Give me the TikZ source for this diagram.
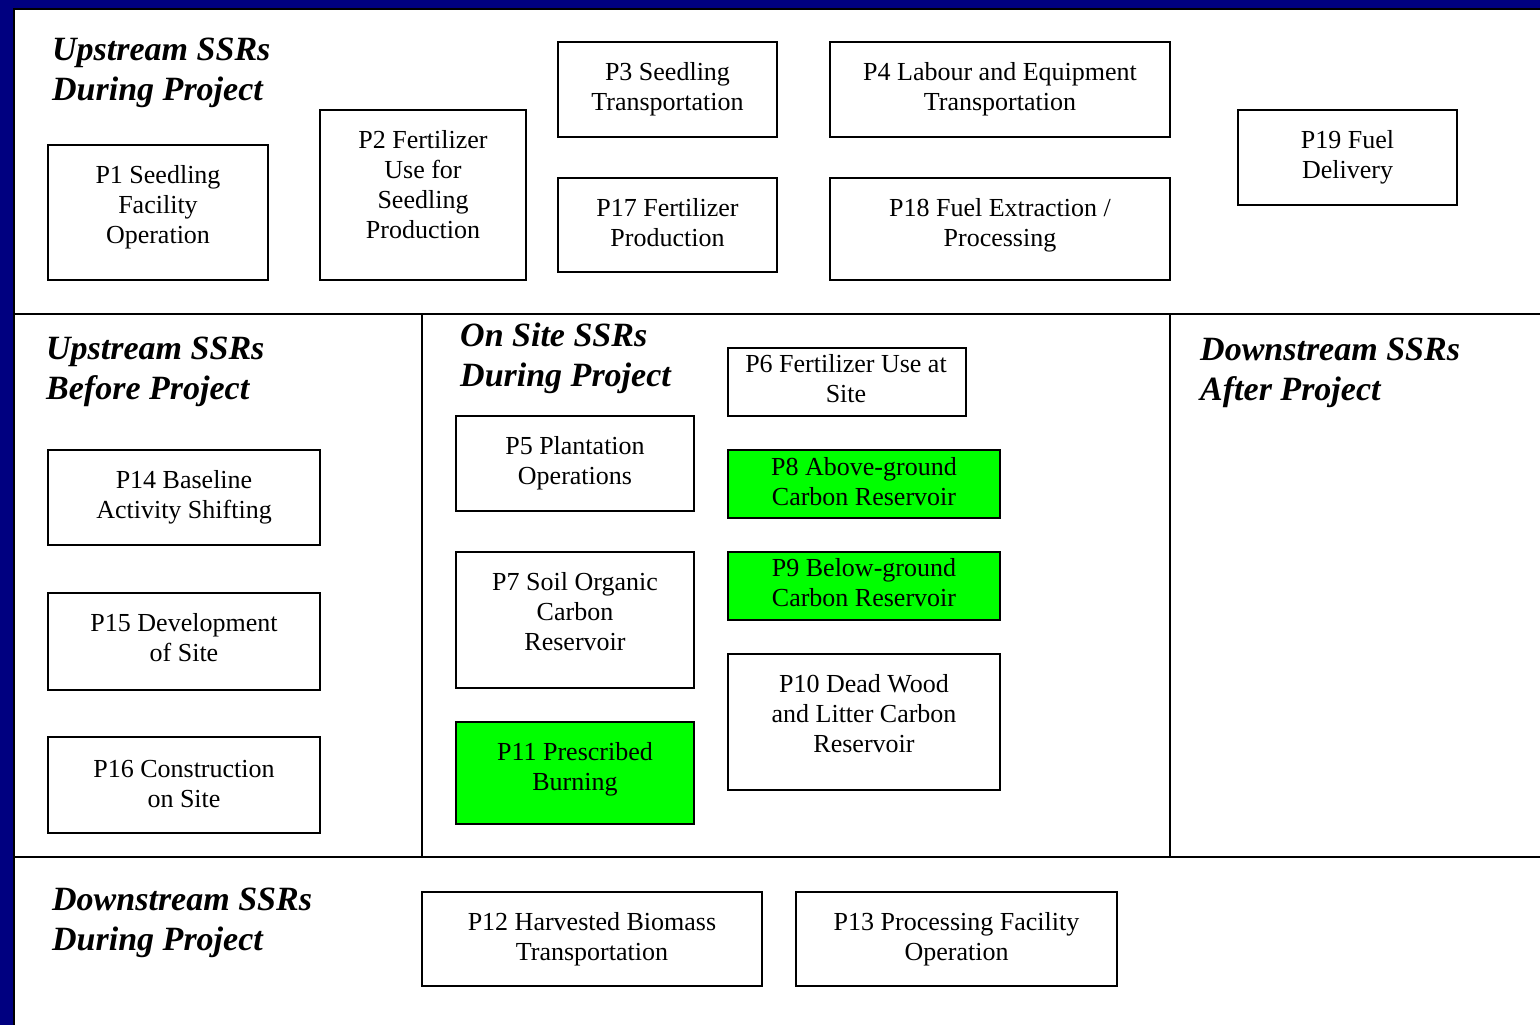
\documentclass[tikz,border=0pt]{standalone}
\usepackage{fontspec}
\setmainfont{Liberation Serif}
\definecolor{slideblue}{RGB}{0,0,128}
\definecolor{keygreen}{RGB}{0,255,0}
\tikzset{
  ssrbox/.style={draw, line width=1.6pt, fill=white},
  ssrkey/.style={ssrbox, fill=keygreen},
  ssrtext/.style={inner sep=0pt, align=center, font=\fontsize{26}{30}\selectfont},
  zone/.style={anchor=north west, inner sep=0pt, align=left, font=\fontsize{34}{40}\selectfont\bfseries\itshape}
}

\begin{document}
\begin{tikzpicture}[x=1pt,y=-1pt]
\useasboundingbox (0,0) rectangle (1540,1025);
\fill[slideblue] (0,0) rectangle (1540,1025);
\draw[fill=white, line width=2pt] (14,9) rectangle (1560,1045);
\draw[line width=1.6pt] (14,314) -- (1560,314);
\draw[line width=1.6pt] (14,857) -- (1560,857);
\draw[line width=1.6pt] (422,314) -- (422,857);
\draw[line width=1.6pt] (1170,314) -- (1170,857);

\node[zone] (updur) at (52,38) {Upstream SSRs\\During Project};
\node[zone] (upbef) at (46,337) {Upstream SSRs\\Before Project};
\node[zone] (ondur) at (460,323) {On Site SSRs\\During Project};
\node[zone] (downaft) at (1200,338) {Downstream SSRs\\After Project};
\node[zone] (downdur) at (52,888) {Downstream SSRs\\During Project};

\draw[ssrbox] (48,145) rectangle (268,280);
\node[ssrtext] (p1) at (158,207.5) {P1 Seedling\\Facility\\Operation};
\draw[ssrbox] (320,110) rectangle (526,280);
\node[ssrtext] (p2) at (423,185) {P2 Fertilizer\\Use for\\Seedling\\Production};
\draw[ssrbox] (558,42) rectangle (777,137);
\node[ssrtext] (p3) at (667.5,89.5) {P3 Seedling\\Transportation};
\draw[ssrbox] (830,42) rectangle (1170,137);
\node[ssrtext] (p4) at (1000,89.5) {P4 Labour and Equipment\\Transportation};
\draw[ssrbox] (558,178) rectangle (777,272);
\node[ssrtext] (p17) at (667.5,223) {P17 Fertilizer\\Production};
\draw[ssrbox] (830,178) rectangle (1170,280);
\node[ssrtext] (p18) at (1000,225.5) {P18 Fuel Extraction /\\Processing};
\draw[ssrbox] (1238,110) rectangle (1457,205);
\node[ssrtext] (p19) at (1347.5,157.5) {P19 Fuel\\Delivery};

\draw[ssrbox] (48,450) rectangle (320,545);
\node[ssrtext] (p14) at (184,497.5) {P14 Baseline\\Activity Shifting};
\draw[ssrbox] (48,593) rectangle (320,690);
\node[ssrtext] (p15) at (184,638) {P15 Development\\of Site};
\draw[ssrbox] (48,737) rectangle (320,833);
\node[ssrtext] (p16) at (184,784) {P16 Construction\\on Site};

\draw[ssrbox] (456,416) rectangle (694,511);
\node[ssrtext] (p5) at (575,463.5) {P5 Plantation\\Operations};
\draw[ssrbox] (456,552) rectangle (694,688);
\node[ssrtext] (p7) at (575,612) {P7 Soil Organic\\Carbon\\Reservoir};
\draw[ssrkey] (456,722) rectangle (694,824);
\node[ssrtext] (p11) at (575,769.5) {P11 Prescribed\\Burning};
\draw[ssrbox] (728,348) rectangle (966,416);
\node[ssrtext] (p6) at (846,379) {P6 Fertilizer Use at\\Site};
\draw[ssrkey] (728,450) rectangle (1000,518);
\node[ssrtext] (p8) at (864,482) {P8 Above-ground\\Carbon Reservoir};
\draw[ssrkey] (728,552) rectangle (1000,620);
\node[ssrtext] (p9) at (864,583) {P9 Below-ground\\Carbon Reservoir};
\draw[ssrbox] (728,654) rectangle (1000,790);
\node[ssrtext] (p10) at (864,714) {P10 Dead Wood\\and Litter Carbon\\Reservoir};

\draw[ssrbox] (422,892) rectangle (762,986);
\node[ssrtext] (p12) at (592,939.5) {P12 Harvested Biomass\\Transportation};
\draw[ssrbox] (796,892) rectangle (1117,986);
\node[ssrtext] (p13) at (956.5,939.5) {P13 Processing Facility\\Operation};
\end{tikzpicture}
\end{document}
